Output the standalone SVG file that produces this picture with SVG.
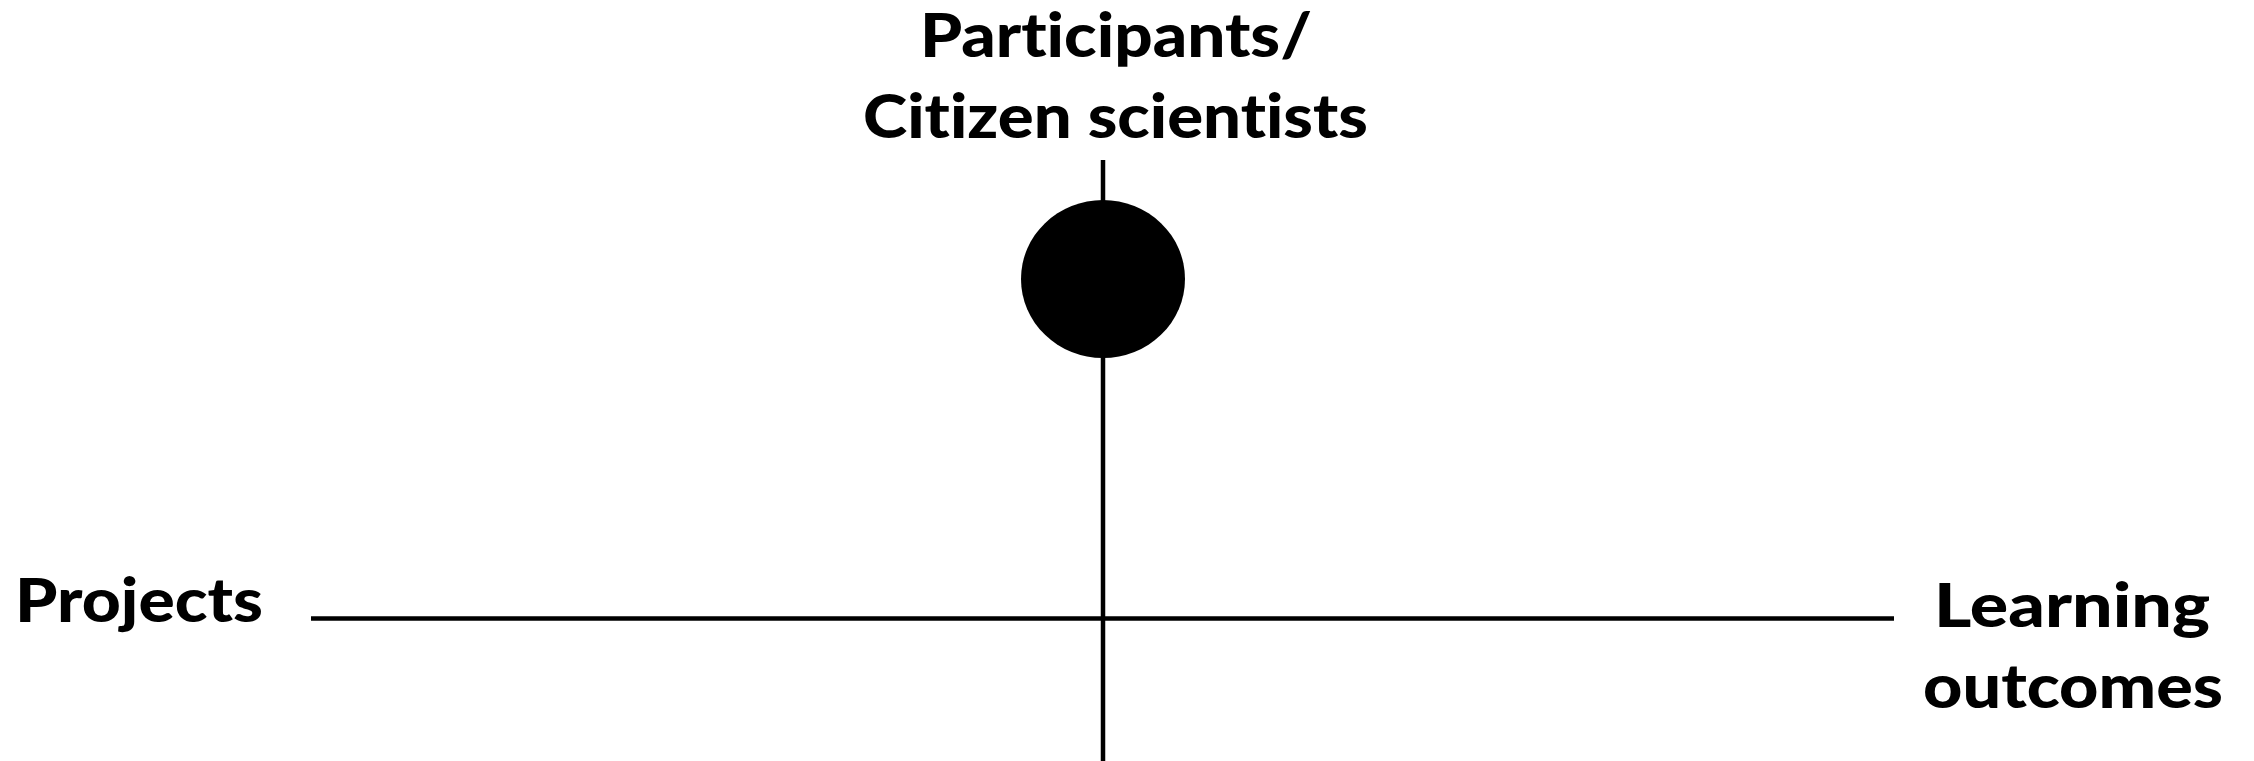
<svg xmlns="http://www.w3.org/2000/svg" width="2254" height="761" viewBox="0 0 2254 761">
<style>
.lbl{font-family:Lato,"Liberation Sans",Arial,sans-serif;font-weight:900;font-size:60px;fill:#000;font-variant-ligatures:none;font-feature-settings:"liga" 0,"clig" 0,"dlig" 0}
.ax{stroke:#000;stroke-width:4.5;fill:none}
</style>
<rect width="2254" height="761" fill="#fff"/>
<g id="connectors">
<line class="ax" x1="1103" y1="160" x2="1103" y2="761"/>
<line class="ax" x1="311" y1="618.5" x2="1894" y2="618.5"/>
</g>
<g id="participants">
<ellipse cx="1103" cy="279" rx="82" ry="79" fill="#000"/>
<text class="lbl" x="920" y="57" textLength="392" lengthAdjust="spacingAndGlyphs">Participants/</text>
<text class="lbl" x="863" y="138" textLength="505" lengthAdjust="spacingAndGlyphs">Citizen scientists</text>
</g>
<g id="projects">
<text class="lbl" x="15" y="622" textLength="248" lengthAdjust="spacingAndGlyphs">Projects</text>
</g>
<g id="learning">
<text class="lbl" x="1934" y="627" textLength="276" lengthAdjust="spacingAndGlyphs">Learning</text>
<text class="lbl" x="1923" y="708" textLength="300" lengthAdjust="spacingAndGlyphs">outcomes</text>
</g>
</svg>
